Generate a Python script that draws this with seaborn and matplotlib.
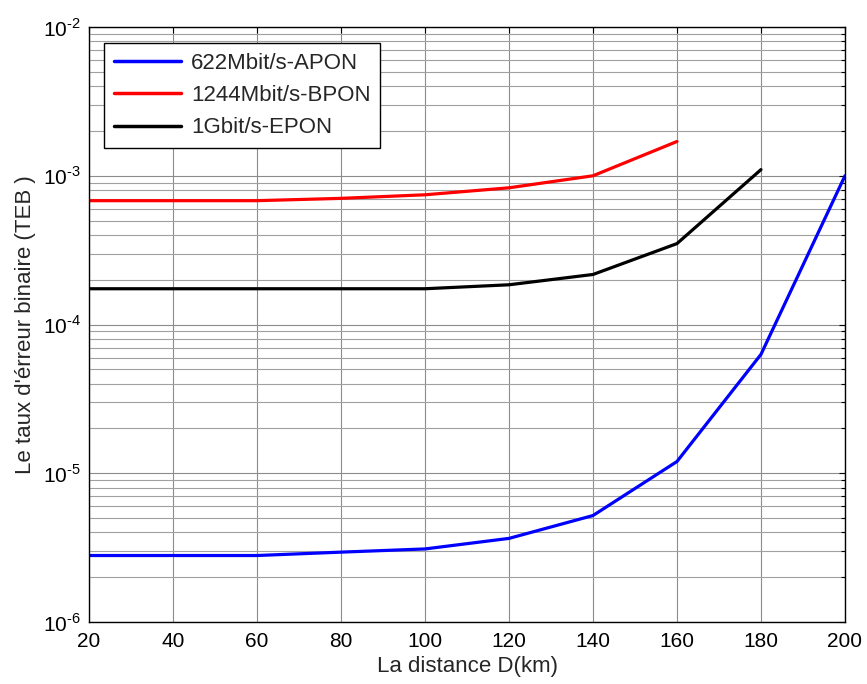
import seaborn as sns
import matplotlib.pyplot as plt
import matplotlib.ticker as mticker
import pandas as pd
import numpy as np

# distances (km)
dist_apon = [20, 40, 60, 80, 100, 120, 140, 160, 180, 200]
teb_apon = [2.8e-6, 2.8e-6, 2.8e-6, 2.95e-6, 3.1e-6, 3.65e-6, 5.2e-6, 1.2e-5, 6.3e-5, 1.0e-3]

dist_bpon = [20, 40, 60, 80, 100, 120, 140, 160]
teb_bpon = [6.8e-4, 6.8e-4, 6.8e-4, 7.05e-4, 7.45e-4, 8.3e-4, 1.0e-3, 1.7e-3]

dist_epon = [20, 40, 60, 80, 100, 120, 140, 160, 180]
teb_epon = [1.74e-4, 1.74e-4, 1.74e-4, 1.74e-4, 1.74e-4, 1.85e-4, 2.17e-4, 3.5e-4, 1.1e-3]

labels = ['622Mbit/s-APON', '1244Mbit/s-BPON', '1Gbit/s-EPON']
colors = ['#0000ff', '#ff0000', '#000000']

df = pd.concat([
    pd.DataFrame({'D': dist_apon, 'TEB': teb_apon, 'serie': labels[0]}),
    pd.DataFrame({'D': dist_bpon, 'TEB': teb_bpon, 'serie': labels[1]}),
    pd.DataFrame({'D': dist_epon, 'TEB': teb_epon, 'serie': labels[2]}),
])

sns.set_theme(style="white")
plt.rcParams['font.family'] = ['Liberation Sans', 'DejaVu Sans']
plt.rcParams['mathtext.fontset'] = 'custom'
plt.rcParams['mathtext.rm'] = 'Liberation Sans'

fig = plt.figure(figsize=(8.67, 6.84), dpi=100)
ax = fig.add_axes([0.1027, 0.0906, 0.8719, 0.8699])

sns.lineplot(data=df, x='D', y='TEB', hue='serie', hue_order=labels,
             palette=colors, linewidth=2.3, ax=ax, sort=False)

ax.set_yscale('log')
ax.set_xlim(20, 200)
ax.set_ylim(1e-6, 1e-2)
ax.set_xticks(np.arange(20, 201, 20))
ax.yaxis.set_major_locator(mticker.LogLocator(base=10, numticks=10))
ax.yaxis.set_minor_locator(mticker.LogLocator(base=10, subs=np.arange(2, 10), numticks=20))
ax.yaxis.set_minor_formatter(mticker.NullFormatter())
# exposants style matlab (trait d'union)
ax.yaxis.set_major_formatter(mticker.FuncFormatter(
    lambda v, p: r'$\mathrm{10}^{\text{-%d}}$' % round(-np.log10(v))))

ax.grid(True, which='major', color='#8c8c8c', linewidth=0.8)
ax.grid(True, which='minor', axis='y', color='#a0a0a0', linewidth=0.8)
ax.tick_params(which='both', direction='in', top=True, right=True,
               labelsize=15, colors='black', length=4, width=0.8)
ax.tick_params(which='minor', length=3)
ax.tick_params(axis='x', pad=7)
ax.tick_params(axis='y', pad=6)
for s in ax.spines.values():
    s.set_color('black')
    s.set_linewidth(1.0)

ax.set_xlabel('La distance D(km)', fontsize=16, labelpad=4)
ax.set_ylabel("Le taux d'érreur binaire (TEB )", fontsize=16, labelpad=5)

leg = ax.legend(loc='upper left', fontsize=16, fancybox=False, framealpha=1,
                edgecolor='black', handlelength=3.0, borderpad=0.45,
                labelspacing=0.5, handletextpad=0.45, borderaxespad=0,
                bbox_to_anchor=(0.02, 0.973))
leg.get_frame().set_linewidth(1.0)
for line in leg.get_lines():
    line.set_linewidth(2.5)

fig.savefig('out.png', dpi=100)
